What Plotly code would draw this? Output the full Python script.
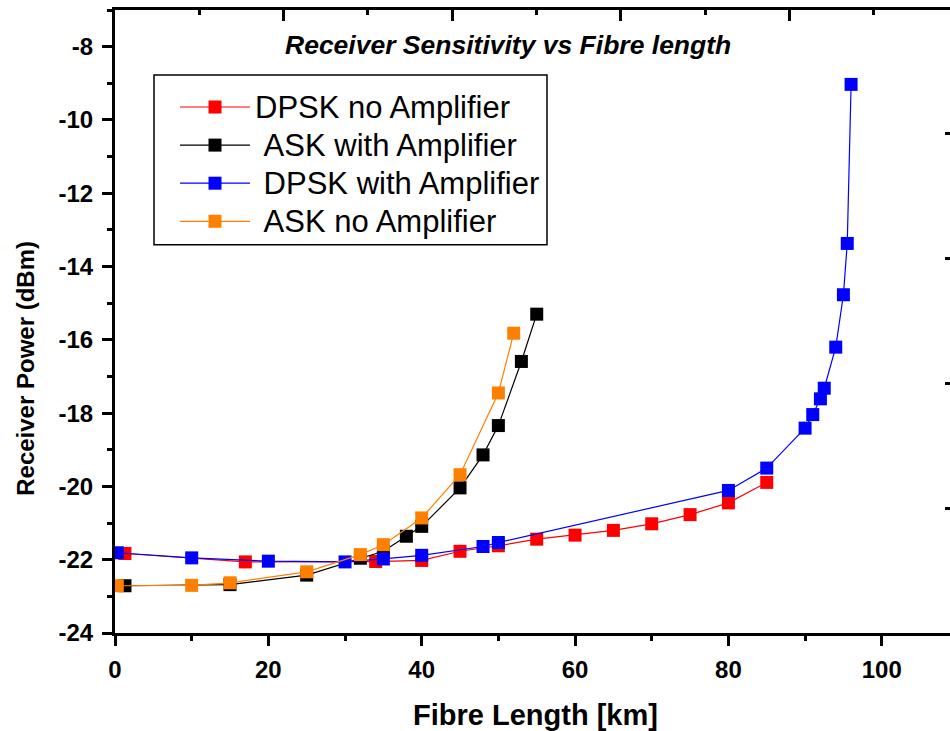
import plotly.graph_objects as go

# ---- data ----
dpsk_noamp_x = [1.3, 17, 34, 40, 45, 50, 55, 60, 65, 70, 75, 80, 85]
dpsk_noamp_y = [-21.83, -22.06, -22.05, -22.02, -21.77, -21.62, -21.44, -21.33, -21.2, -21.02, -20.77, -20.45, -19.89]

ask_amp_x = [1.3, 15, 25, 32, 35, 38, 40, 45, 48, 50, 53, 55]
ask_amp_y = [-22.71, -22.68, -22.42, -21.96, -21.77, -21.36, -21.09, -20.04, -19.14, -18.34, -16.59, -15.3]

dpsk_amp_x = [0.3, 10, 20, 30, 35, 40, 48, 50, 80, 85, 90, 91, 92, 92.5, 94, 95, 95.5, 96]
dpsk_amp_y = [-21.81, -21.95, -22.04, -22.06, -21.98, -21.88, -21.64, -21.53, -20.11, -19.5, -18.41, -18.04, -17.61, -17.32, -16.2, -14.77, -13.37, -9.03]

ask_noamp_x = [0.3, 10, 15, 25, 32, 35, 40, 45, 50, 52]
ask_noamp_y = [-22.71, -22.70, -22.63, -22.33, -21.86, -21.59, -20.86, -19.68, -17.45, -15.82]

series_names = ["DPSK no Amplifier", "\u00a0ASK with Amplifier", "\u00a0DPSK with Amplifier", "\u00a0ASK no Amplifier"]
series_x = [dpsk_noamp_x, ask_amp_x, dpsk_amp_x, ask_noamp_x]
series_y = [dpsk_noamp_y, ask_amp_y, dpsk_amp_y, ask_noamp_y]
series_colors = ["#FF0000", "#000000", "#0000FF", "#FF8000"]

x_range = [0, 108.9]
y_range = [-24, -7]
x_ticks = [0, 20, 40, 60, 80, 100]
y_ticks = [-24, -22, -20, -18, -16, -14, -12, -10, -8]
x_ticktext = [f"<b>{v}</b>" for v in x_ticks]
y_ticktext = [f"<b>{v}</b>" for v in y_ticks]

FONT = "Liberation Sans, Arial, sans-serif"

# pixel geometry of plot area (for paper coords of annotations)
L, R, T, B = 115, 950, 10, 633.4
def px(xp):
    return (xp - L) / (R - L)
def py(yp):
    return (B - yp) / (B - T)

fig = go.Figure()
for name, xs, ys, col in zip(series_names, series_x, series_y, series_colors):
    fig.add_trace(go.Scatter(
        x=xs, y=ys, name=f"<span style='font-size:31px'>{name}</span>", mode="lines+markers",
        line=dict(color=col, width=1.2),
        marker=dict(symbol="square", size=13, color=col, line=dict(width=0)),
    ))

# dummy traces for the secondary (top / right) tick scales
fig.add_trace(go.Scatter(x=[None], y=[None], xaxis="x2", yaxis="y", showlegend=False, hoverinfo="skip"))
fig.add_trace(go.Scatter(x=[None], y=[None], xaxis="x", yaxis="y2", showlegend=False, hoverinfo="skip"))

axis_font = dict(family=FONT, size=24, color="black", weight=700)

fig.update_layout(
    width=950, height=731,
    margin=dict(l=115, r=0, t=10, b=98),
    paper_bgcolor="white", plot_bgcolor="white",
    showlegend=True,
    xaxis=dict(
        range=x_range, tickvals=x_ticks, ticktext=x_ticktext, showgrid=False, zeroline=False,
        showline=True, linecolor="black", linewidth=3, mirror=True,
        ticks="outside", ticklen=10, tickwidth=2.5, tickcolor="black",
        tickfont=axis_font, ticklabelstandoff=3,
        minor=dict(tickvals=[10, 30, 50, 70, 90], ticks="outside", ticklen=5, tickwidth=2.5, tickcolor="black"),
    ),
    yaxis=dict(
        range=y_range, tickvals=y_ticks, ticktext=y_ticktext, showgrid=False, zeroline=False,
        showline=True, linecolor="black", linewidth=3, mirror=False,
        ticks="outside", ticklen=10, tickwidth=2.5, tickcolor="black",
        tickfont=axis_font, ticklabelstandoff=4,
        minor=dict(tickvals=[-23, -21, -19, -17, -15, -13, -11, -9, -7], ticks="outside", ticklen=5, tickwidth=2.5, tickcolor="black"),
    ),
    xaxis2=dict(
        overlaying="x", side="top", range=[0, 9.905], tickvals=[2, 4, 6, 8],
        showticklabels=False, showgrid=False, zeroline=False, showline=False,
        ticks="inside", ticklen=11, tickwidth=2.5, tickcolor="black",
        minor=dict(tickvals=[1, 3, 5, 7, 9], ticks="inside", ticklen=5, tickwidth=2.5, tickcolor="black"),
    ),
    yaxis2=dict(
        overlaying="y", side="right", range=[0, 4.987], tickvals=[1, 2, 3, 4],
        showticklabels=False, showgrid=False, zeroline=False, showline=False,
        ticks="inside", ticklen=5, tickwidth=2.5, tickcolor="black",
    ),
    legend=dict(
        x=px(175), y=py(83), xanchor="left", yanchor="top",
        bgcolor="rgba(0,0,0,0)", borderwidth=0,
        font=dict(family=FONT, size=27, color="black"),
        itemwidth=70, traceorder="normal",
    ),
    shapes=[
        dict(type="rect", xref="paper", yref="paper",
             x0=px(154), x1=px(547), y0=py(245), y1=py(75),
             line=dict(color="black", width=1.5), fillcolor="white", layer="below"),
    ],
    annotations=[
        dict(text="<b><i>Receiver Sensitivity vs Fibre length</i></b>",
             xref="paper", yref="paper", x=px(508), y=py(45), xanchor="center", yanchor="middle",
             showarrow=False, font=dict(family=FONT, size=26.5, color="black")),
        dict(text="<b>Fibre Length [km]</b>",
             xref="paper", yref="paper", x=px(535.5), y=py(715),
             xanchor="center", yanchor="middle",
             showarrow=False, font=dict(family=FONT, size=29, color="black")),
        dict(text="<b>Receiver Power (dBm)</b>",
             xref="paper", yref="paper", x=px(26), y=py(369),
             xanchor="center", yanchor="middle", textangle=-90,
             showarrow=False, font=dict(family=FONT, size=24, color="black")),
    ],
)

fig.write_html("out.html")
